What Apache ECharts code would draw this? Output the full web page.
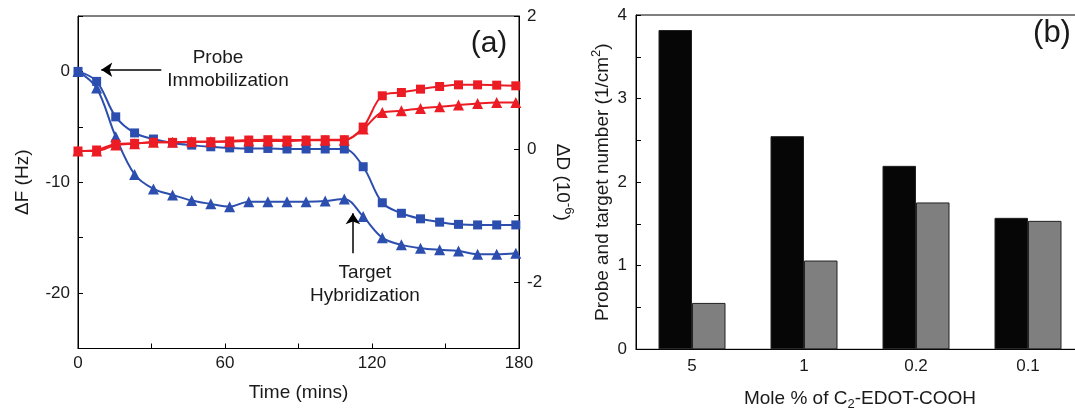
<!DOCTYPE html>
<html>
<head>
    <meta charset="utf-8">
    <title>QCM probe / target</title>
    <script src="https://cdn.jsdelivr.net/npm/echarts@6/dist/echarts.min.js"></script>
    <style>
        html, body { margin: 0; padding: 0; background: #fff; }
        #chart { width: 1075px; height: 411px; }
    </style>
</head>
<body>
<div id="chart"></div>
<script type="text/javascript">
    // (a) QCM-D time traces
    var times = [0, 7.6, 15.4, 23.1, 30.8, 38.6, 46.4, 54.2, 61.9, 69.7, 77.5, 85.3,
        93.1, 100.9, 108.7, 116.4, 124.2, 132, 139.8, 147.6, 155.3, 163.1, 170.9, 178.7];
    var dfSquare = [0, -0.9, -4.1, -5.55, -6.1, -6.45, -6.65, -6.8, -6.9, -6.95, -6.95, -7.0,
        -7.0, -7.0, -7.0, -8.6, -11.85, -12.8, -13.3, -13.6, -13.8, -13.85, -13.85, -13.85];
    var dfTriangle = [0, -1.5, -5.9, -9.3, -10.6, -11.15, -11.65, -11.95, -12.2, -11.75, -11.75, -11.75,
        -11.75, -11.7, -11.5, -13.1, -15.0, -15.65, -15.95, -16.1, -16.2, -16.5, -16.5, -16.4];
    var ddSquare = [-0.03, -0.015, 0.075, 0.085, 0.1, 0.1, 0.11, 0.11, 0.12, 0.135, 0.14, 0.135,
        0.135, 0.14, 0.14, 0.33, 0.8, 0.85, 0.9, 0.94, 0.965, 0.965, 0.96, 0.95];
    var ddTriangle = [-0.03, -0.03, 0.06, 0.08, 0.1, 0.1, 0.11, 0.11, 0.11, 0.12, 0.12, 0.12,
        0.13, 0.13, 0.13, 0.3, 0.55, 0.575, 0.61, 0.635, 0.66, 0.685, 0.7, 0.7];

    // (b) probe and target numbers
    var moleCats = ['5', '1', '0.2', '0.1'];
    var probeNum = [3.82, 2.55, 2.195, 1.573];
    var targetNum = [0.555, 1.062, 1.757, 1.537];

    var BLUE = '#2c4eae';
    var RED = '#ec1c24';
    var FONT = 'Liberation Sans';

    function pairs(xs, ys) {
        return xs.map(function (x, i) { return [x, ys[i]]; });
    }

    var axisLine = { show: true, onZero: false, lineStyle: { color: '#000', width: 1 } };
    var tickLabel = { fontSize: 17, color: '#1a1a1a', fontFamily: FONT };
    var richName = {
        n: { fontSize: 19, lineHeight: 26, fontFamily: FONT, color: '#1a1a1a' },
        sup: { fontSize: 13, lineHeight: 13, verticalAlign: 'top', fontFamily: FONT, color: '#1a1a1a' },
        sub: { fontSize: 13, lineHeight: 13, verticalAlign: 'bottom', fontFamily: FONT, color: '#1a1a1a' }
    };

    function lineSeries(ys, yIdx, color, symbol, size) {
        return {
            type: 'line', xAxisIndex: 0, yAxisIndex: yIdx,
            data: pairs(times, ys), smooth: 0.35,
            symbol: symbol, symbolSize: size, showSymbol: true,
            lineStyle: { color: color, width: 2 },
            itemStyle: { color: color },
            z: yIdx === 1 ? 4 : 3
        };
    }

    var myChart = echarts.init(document.getElementById('chart'));

    var series = [
        lineSeries(dfSquare, 0, BLUE, 'rect', 9),
        lineSeries(dfTriangle, 0, BLUE, 'triangle', 11),
        lineSeries(ddSquare, 1, RED, 'rect', 9),
        lineSeries(ddTriangle, 1, RED, 'triangle', 11),
        {
            type: 'bar', xAxisIndex: 1, yAxisIndex: 2, data: probeNum,
            barWidth: 33.5, barGap: '0%',
            itemStyle: { color: '#060606', borderColor: '#222', borderWidth: 1 }
        },
        {
            type: 'bar', xAxisIndex: 1, yAxisIndex: 2, data: targetNum,
            barWidth: 33.5, barGap: '0%',
            itemStyle: { color: '#7f7f7f', borderColor: '#222', borderWidth: 1 }
        }
    ];

    // arrows in panel (a)
    series[0].markLine = {
        silent: true, animation: false,
        symbol: ['none', 'arrow'], symbolSize: 11,
        label: { show: false },
        lineStyle: { color: '#000', width: 1.5, type: 'solid' },
        data: [
            [{ coord: [34, 0.15] }, { coord: [9.5, 0.15] }],
            [{ coord: [112.2, -16.4] }, { coord: [112.2, -12.8] }]
        ]
    };

    myChart.setOption({
        animation: false,
        grid: [
            { left: 78, right: 556, top: 16, bottom: 62.5, show: true, borderColor: '#000', borderWidth: 1,
              backgroundColor: 'transparent', outerBoundsMode: 'none' },
            { left: 636, width: 448, top: 15, bottom: 61.7, show: true, borderColor: '#000', borderWidth: 1,
              backgroundColor: 'transparent', outerBoundsMode: 'none' }
        ],
        xAxis: [
            {
                type: 'value', gridIndex: 0, min: 0, max: 180, interval: 30,
                axisLine: axisLine, splitLine: { show: false },
                axisTick: { inside: true, length: 5, lineStyle: { color: '#000' } },
                axisLabel: Object.assign({ margin: 6, formatter: function (v) { return v % 60 === 0 ? v : ''; } }, tickLabel),
                name: 'Time (mins)', nameLocation: 'middle', nameGap: 31, nameMoveOverlap: false,
                nameTextStyle: { fontSize: 19, lineHeight: 26, fontFamily: FONT, color: '#1a1a1a' }
            },
            {
                type: 'category', gridIndex: 1, data: moleCats,
                axisLine: axisLine,
                axisTick: { inside: true, length: 4, lineStyle: { color: '#000' } },
                axisLabel: Object.assign({ margin: 9 }, tickLabel),
                name: '{n|Mole % of C}{sub|2}{n|-EDOT-COOH}', nameLocation: 'middle', nameGap: 36,
                nameMoveOverlap: false,
                nameTextStyle: { rich: richName }
            }
        ],
        yAxis: [
            {
                type: 'value', gridIndex: 0, min: -25, max: 5, interval: 5,
                axisLine: axisLine, splitLine: { show: false },
                axisTick: { show: true, inside: true, length: 5, lineStyle: { color: '#000' } },
                axisLabel: Object.assign({ margin: 8, formatter: function (v) { return v % 10 === 0 ? v : ''; } }, tickLabel),
                name: '{n|ΔF (Hz)}', nameLocation: 'middle', nameGap: 42, nameMoveOverlap: false,
                nameTextStyle: { rich: richName }
            },
            {
                type: 'value', gridIndex: 0, position: 'right', min: -3, max: 2, interval: 1,
                axisLine: axisLine, splitLine: { show: false },
                axisTick: { show: true, inside: true, length: 5, lineStyle: { color: '#000' } },
                axisLabel: Object.assign({ margin: 8, formatter: function (v) { return v % 2 === 0 ? v : ''; } }, tickLabel),
                name: '{n|ΔD (10}{sup|-6}{n|)}', nameLocation: 'middle', nameGap: 30, nameRotate: -90,
                nameMoveOverlap: false,
                nameTextStyle: { rich: richName }
            },
            {
                type: 'value', gridIndex: 1, min: 0, max: 4, interval: 0.5,
                axisLine: axisLine, splitLine: { show: false },
                axisTick: { show: true, inside: true, length: 5, lineStyle: { color: '#000' } },
                axisLabel: Object.assign({ margin: 9, formatter: function (v) { return Number.isInteger(v) ? v : ''; } }, tickLabel),
                name: '{n|Probe and target number (1/cm}{sup|2}{n|)}', nameLocation: 'middle', nameGap: 20,
                nameMoveOverlap: false,
                nameTextStyle: { rich: richName }
            }
        ],
        graphic: [
            { type: 'text', x: 218, y: 58, style: { text: 'Probe', fontSize: 19, fontFamily: FONT, fill: '#1a1a1a', align: 'center', verticalAlign: 'middle' } },
            { type: 'text', x: 228, y: 81, style: { text: 'Immobilization', fontSize: 19, fontFamily: FONT, fill: '#1a1a1a', align: 'center', verticalAlign: 'middle' } },
            { type: 'text', x: 365, y: 273, style: { text: 'Target', fontSize: 19, fontFamily: FONT, fill: '#1a1a1a', align: 'center', verticalAlign: 'middle' } },
            { type: 'text', x: 365, y: 296, style: { text: 'Hybridization', fontSize: 19, fontFamily: FONT, fill: '#1a1a1a', align: 'center', verticalAlign: 'middle' } },
            { type: 'text', x: 489, y: 44, style: { text: '(a)', fontSize: 30, fontFamily: FONT, fill: '#1a1a1a', align: 'center', verticalAlign: 'middle' } },
            { type: 'text', x: 1052, y: 33, style: { text: '(b)', fontSize: 31, fontFamily: FONT, fill: '#1a1a1a', align: 'center', verticalAlign: 'middle' } }
        ],
        series: series
    });
</script>
</body>
</html>
